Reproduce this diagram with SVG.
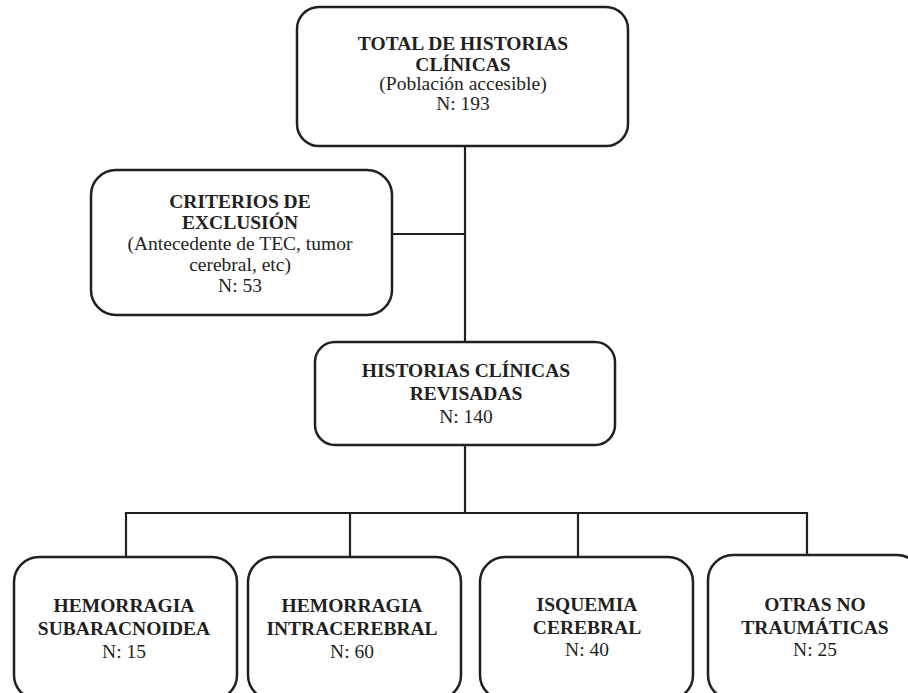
<svg xmlns="http://www.w3.org/2000/svg" width="908" height="693" viewBox="0 0 908 693">
<style>
.box{fill:#fff;stroke:#231f20;stroke-width:2.5}
.ln{fill:none;stroke:#231f20;stroke-width:2.2}
text{font-family:"Liberation Serif","Times New Roman",serif;font-size:19.5px;fill:#231f20;text-anchor:middle}
.b{font-weight:bold}
</style>
<rect width="908" height="693" fill="#fff"/>
<g id="connectors">
<path class="ln" d="M465 145 V342"/>
<path class="ln" d="M392 234 H465"/>
<path class="ln" d="M465 445 V513"/>
<path class="ln" d="M126 557 V513 H807 V557"/>
<path class="ln" d="M350 513 V557"/>
<path class="ln" d="M578 513 V557"/>
</g>
<g id="total">
<rect class="box" x="297" y="7" width="331" height="139" rx="22"/>
<text class="b" x="463" y="50">TOTAL DE HISTORIAS</text>
<text class="b" x="463" y="71">CLÍNICAS</text>
<text x="463" y="90">(Población accesible)</text>
<text x="463" y="110">N: 193</text>
</g>
<g id="exclusion">
<rect class="box" x="91" y="170" width="301" height="145" rx="25"/>
<text class="b" x="240" y="208">CRITERIOS DE</text>
<text class="b" x="240" y="229">EXCLUSIÓN</text>
<text x="240" y="250">(Antecedente de TEC, tumor</text>
<text x="240" y="271">cerebral, etc)</text>
<text x="240" y="292">N: 53</text>
</g>
<g id="revisadas">
<rect class="box" x="315" y="342" width="300" height="103" rx="20"/>
<text class="b" x="466" y="377">HISTORIAS CLÍNICAS</text>
<text class="b" x="466" y="400">REVISADAS</text>
<text x="466" y="423">N: 140</text>
</g>
<g id="hsa">
<rect class="box" x="14" y="557" width="223" height="143" rx="25"/>
<text class="b" x="124" y="612">HEMORRAGIA</text>
<text class="b" x="124" y="635">SUBARACNOIDEA</text>
<text x="124" y="658">N: 15</text>
</g>
<g id="hic">
<rect class="box" x="248" y="557" width="213" height="143" rx="25"/>
<text class="b" x="352" y="612">HEMORRAGIA</text>
<text class="b" x="352" y="635">INTRACEREBRAL</text>
<text x="352" y="658">N: 60</text>
</g>
<g id="isquemia">
<rect class="box" x="480" y="557" width="213" height="143" rx="25"/>
<text class="b" x="587" y="611">ISQUEMIA</text>
<text class="b" x="587" y="634">CEREBRAL</text>
<text x="587" y="656">N: 40</text>
</g>
<g id="otras">
<rect class="box" x="708" y="555" width="214" height="145" rx="25"/>
<text class="b" x="815" y="611">OTRAS NO</text>
<text class="b" x="815" y="634">TRAUMÁTICAS</text>
<text x="815" y="656">N: 25</text>
</g>
</svg>
